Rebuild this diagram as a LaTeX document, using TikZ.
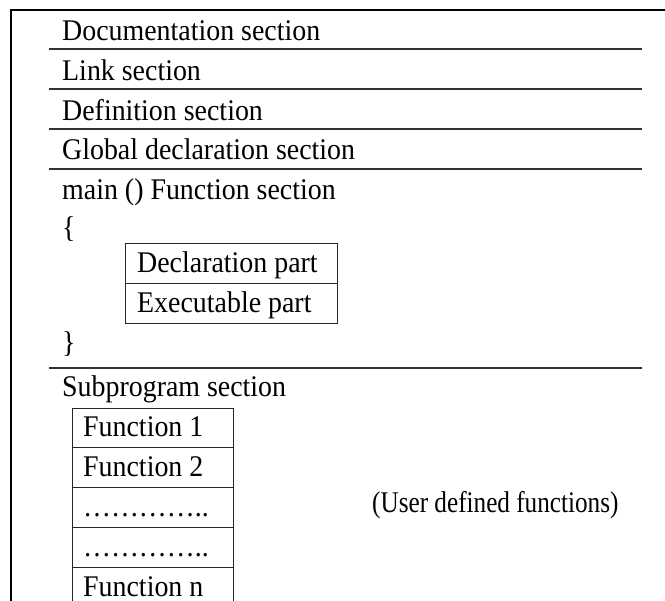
\documentclass[tikz,border=0pt]{standalone}
\usepackage{fontspec}
\setmainfont[FakeStretch=0.93]{Liberation Serif}
\newfontfamily\narrowserif[FakeStretch=0.84]{Liberation Serif}
\begin{document}
\begin{tikzpicture}[x=1pt,y=-1pt,
  lbl/.style={anchor=base west,inner sep=0pt,font=\fontsize{30}{32}\selectfont},
  rule/.style={line width=1.1pt,black!80},
  boxline/.style={line width=0.9pt,black!85}]
\useasboundingbox (0,0) rectangle (665,601);
% outer frame
\draw[line width=1.2pt] (11,601) -- (11,10) -- (665,10);
% section texts
\node[lbl] (doc) at (62,41) {Documentation section};
\node[lbl] (link) at (62,81) {Link section};
\node[lbl] (def) at (62,121) {Definition section};
\node[lbl] (glob) at (62,160) {Global declaration section};
\node[lbl] (main) at (62,200) {main () Function section};
\node[lbl] (ob) at (62,238) {\{};
\node[lbl] (cb) at (62,353) {\}};
\node[lbl] (sub) at (62,397) {Subprogram section};
% separators
\foreach \y in {49,89,129,169,368}
  \draw[rule] (49,\y) -- (642,\y);
% main function box
\draw[boxline] (125,243) rectangle (337,323);
\draw[boxline] (125,283) -- (337,283);
\node[lbl] (decl) at (137,273) {Declaration part};
\node[lbl] (exec) at (137,313) {Executable part};
% subprogram box
\draw[boxline] (72,610) -- (72,408) -- (233,408) -- (233,610);
\foreach \y in {447,487,527,567}
  \draw[boxline] (72,\y) -- (233,\y);
\node[lbl] (f1) at (83,437) {Function 1};
\node[lbl] (f2) at (83,477) {Function 2};
\node[lbl] (d1) at (83,517) {…………..};
\node[lbl] (d2) at (83,557) {…………..};
\node[lbl] (fn) at (83,597) {Function n};
\node[lbl,font=\narrowserif\fontsize{30}{32}\selectfont] (udf) at (372,513) {(User defined functions)};
\end{tikzpicture}
\end{document}
